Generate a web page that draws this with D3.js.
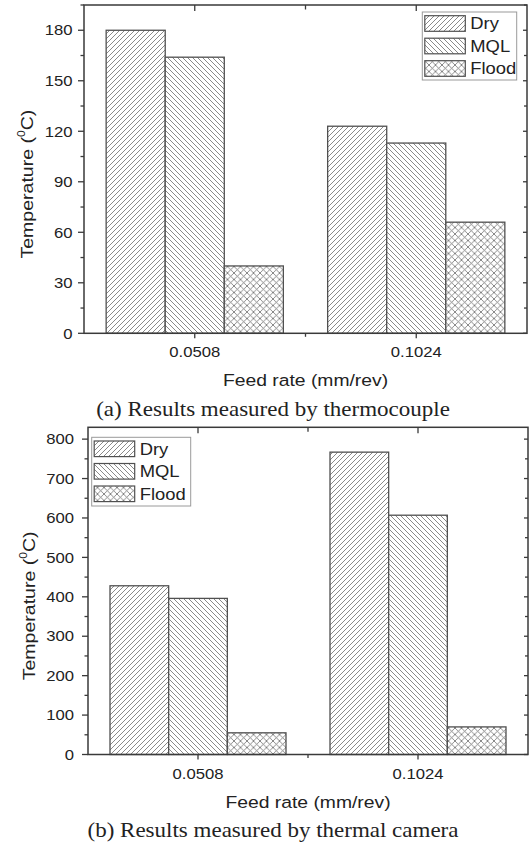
<!DOCTYPE html>
<html>
<head>
<meta charset="utf-8">
<script src="https://cdn.jsdelivr.net/npm/d3@7"></script>
<style>
  html, body { margin: 0; padding: 0; background: #fff; }
  svg { display: block; }
</style>
</head>
<body>
<svg id="chart" width="530" height="843"></svg>
<script>
// Feed rates on the x axis and the three cooling conditions
const feedRates = ["0.0508", "0.1024"];
const conditions = ["Dry", "MQL", "Flood"];

// (a) thermocouple temperatures, °C
const thermoDry = [180, 123];
const thermoMQL = [164, 113];
const thermoFlood = [40, 66];
const thermoTicks = [0, 30, 60, 90, 120, 150, 180];

// (b) thermal camera temperatures, °C
const cameraDry = [428, 767];
const cameraMQL = [396, 607];
const cameraFlood = [55, 70];
const cameraTicks = [0, 100, 200, 300, 400, 500, 600, 700, 800];

const xTitle = "Feed rate (mm/rev)";
const captionA = "(a) Results measured by thermocouple";
const captionB = "(b) Results measured by thermal camera";

const svg = d3.select("#chart");
const SANS = "'Liberation Sans', Arial, sans-serif";
const SERIF = "'Liberation Serif', 'Times New Roman', serif";
const STRETCH = 1.15;
const INK = "#222";
const AXIS = "#3a3a3a";
const BAR_EDGE = "#505050";
const HATCH = "#6c6c6c";

// Hatch patterns: Dry "/", MQL "\", Flood cross-hatch
const defs = svg.append("defs");
function hatch(id, size, dirs) {
  const p = defs.append("pattern")
    .attr("id", id)
    .attr("patternUnits", "userSpaceOnUse")
    .attr("width", size).attr("height", size);
  p.append("rect").attr("width", size).attr("height", size).attr("fill", "#fff");
  const s = size;
  let d = "";
  if (dirs.includes("/")) {
    d += `M${-s},${s} L${s},${-s} M0,${s} L${s},0 M0,${2 * s} L${2 * s},0 `;
  }
  if (dirs.includes("\\")) {
    d += `M${-s},0 L${s},${2 * s} M0,0 L${s},${s} M0,${-s} L${2 * s},${s} `;
  }
  p.append("path").attr("d", d)
    .attr("stroke", HATCH).attr("stroke-width", 0.8).attr("fill", "none");
}
hatch("pat-dry", 5, ["/"]);
hatch("pat-mql", 5, ["\\"]);
hatch("pat-flood", 6.5, ["/", "\\"]);
const fills = { Dry: "url(#pat-dry)", MQL: "url(#pat-mql)", Flood: "url(#pat-flood)" };

// Text helper: the glyphs are slightly widened along the reading direction
function label(parent, x, y, str, opts) {
  const o = Object.assign({ size: 14.5, anchor: "middle", rotate: 0, family: SANS }, opts || {});
  const g = parent.append("g")
    .attr("transform", `translate(${x},${y}) rotate(${o.rotate}) scale(${STRETCH},1)`);
  const t = g.append("text")
    .attr("font-family", o.family)
    .attr("font-size", o.size)
    .attr("fill", INK)
    .attr("text-anchor", o.anchor);
  if (o.dy) t.attr("dy", o.dy);
  return t.text(str);
}

function drawPanel(cfg) {
  const g = svg.append("g");
  const { left, right, top, bottom } = cfg;

  const x0 = d3.scaleBand().domain(feedRates).range([left, right])
    .paddingInner(0.2).paddingOuter(0.1);
  const x1 = d3.scaleBand().domain(conditions).range([0, x0.bandwidth()]).padding(0);
  const y = d3.scaleLinear().domain([0, cfg.yMax]).range([bottom, top]);

  const series = { Dry: cfg.dry, MQL: cfg.mql, Flood: cfg.flood };
  const rows = [];
  feedRates.forEach((f, i) => conditions.forEach(c => rows.push({ f, c, v: series[c][i] })));

  // Bars
  g.append("g").selectAll("rect").data(rows).join("rect")
    .attr("x", d => x0(d.f) + x1(d.c))
    .attr("y", d => y(d.v))
    .attr("width", x1.bandwidth())
    .attr("height", d => y(0) - y(d.v))
    .attr("fill", d => fills[d.c])
    .attr("stroke", BAR_EDGE)
    .attr("stroke-width", 1.3);

  // Frame
  g.append("rect")
    .attr("x", left).attr("y", top)
    .attr("width", right - left).attr("height", bottom - top)
    .attr("fill", "none").attr("stroke", AXIS).attr("stroke-width", 1.5);

  // Tick positions
  const step = cfg.yTicks[1] - cfg.yTicks[0];
  const minorY = cfg.yTicks.map(v => v + step / 2).filter(v => v <= cfg.yMax);
  const centers = feedRates.map(f => x0(f) + x0.bandwidth() / 2);
  const midX = (centers[0] + centers[1]) / 2;

  const tk = g.append("g").attr("stroke", AXIS).attr("stroke-width", 1.3);
  // left axis: outward
  cfg.yTicks.forEach(v => tk.append("line").attr("x1", left - 6).attr("x2", left).attr("y1", y(v)).attr("y2", y(v)));
  minorY.forEach(v => tk.append("line").attr("x1", left - 3.5).attr("x2", left).attr("y1", y(v)).attr("y2", y(v)));
  // right axis: inward
  cfg.yTicks.forEach(v => tk.append("line").attr("x1", right - 4).attr("x2", right).attr("y1", y(v)).attr("y2", y(v)));
  minorY.forEach(v => tk.append("line").attr("x1", right - 3).attr("x2", right).attr("y1", y(v)).attr("y2", y(v)));
  // bottom axis: outward
  centers.forEach(cx => tk.append("line").attr("x1", cx).attr("x2", cx).attr("y1", bottom).attr("y2", bottom + 5));
  tk.append("line").attr("x1", midX).attr("x2", midX).attr("y1", bottom).attr("y2", bottom + 3.5);
  // top axis: inward
  centers.forEach(cx => tk.append("line").attr("x1", cx).attr("x2", cx).attr("y1", top).attr("y2", top + 6));
  tk.append("line").attr("x1", midX).attr("x2", midX).attr("y1", top).attr("y2", top + 4.5);

  // Y tick labels
  cfg.yTicks.forEach(v => label(g, left - cfg.yLabelGap, y(v), String(v), { anchor: "end", dy: "0.36em" }));
  // X tick labels
  feedRates.forEach((f, i) => label(g, centers[i], bottom + 24, f));

  // Axis titles
  label(g, (left + right) / 2, bottom + 53, xTitle, { size: 16.8 });
  const yt = label(g, cfg.yTitleX, (top + bottom) / 2 + 15, "", { size: 17, rotate: -90 });
  yt.append("tspan").text("Temperature (");
  yt.append("tspan").attr("font-size", "0.62em").attr("dy", "-0.75em").text("0");
  yt.append("tspan").attr("dy", "0.465em").text("C)");

  // Caption
  label(g, 273, bottom + 82.5, cfg.caption, { size: 20, family: SERIF, anchor: "middle" });

  // Legend
  const lg = g.append("g");
  lg.append("rect")
    .attr("x", cfg.legend.x).attr("y", cfg.legend.y)
    .attr("width", cfg.legend.w).attr("height", cfg.legend.h)
    .attr("fill", "#fff").attr("stroke", "#9a9a9a").attr("stroke-width", 1);
  conditions.forEach((c, i) => {
    const cy = cfg.legend.y + 11.5 + i * 22.5;
    lg.append("rect")
      .attr("x", cfg.legend.x + 2.5).attr("y", cy - 7.8)
      .attr("width", 40.5).attr("height", 15.6)
      .attr("fill", fills[c]).attr("stroke", BAR_EDGE).attr("stroke-width", 1.2);
    label(lg, cfg.legend.x + 48, cy + 5.8, c, { size: 16, anchor: "start" });
  });
}

drawPanel({
  left: 84, right: 527, top: 5, bottom: 333.3, yMax: 195,
  dry: thermoDry, mql: thermoMQL, flood: thermoFlood, yTicks: thermoTicks,
  yLabelGap: 11.5, yTitleX: 33,
  caption: captionA,
  legend: { x: 422.3, y: 12, w: 94.4, h: 68 }
});

drawPanel({
  left: 88, right: 528, top: 427.3, bottom: 754.5, yMax: 830,
  dry: cameraDry, mql: cameraMQL, flood: cameraFlood, yTicks: cameraTicks,
  yLabelGap: 14, yTitleX: 35,
  caption: captionB,
  legend: { x: 91.7, y: 437.3, w: 99, h: 68.7 }
});
</script>
</body>
</html>
